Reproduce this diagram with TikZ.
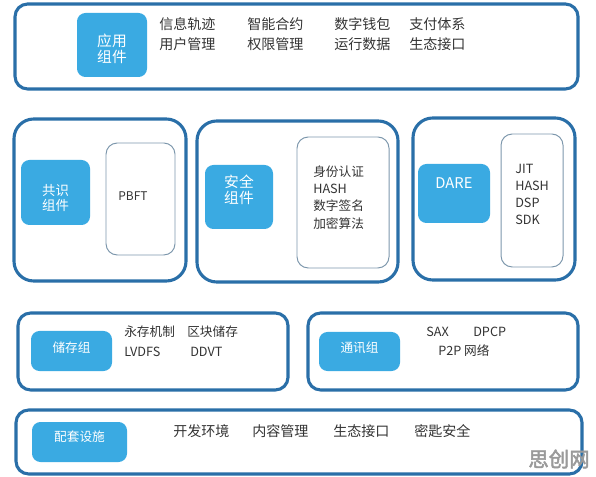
\documentclass[tikz,border=0pt]{standalone}
\usepackage{fontspec}
\setmainfont{Noto Sans CJK SC}
\newfontfamily\markfont[FakeBold=2.5]{Noto Sans CJK SC}
\usetikzlibrary{positioning}

\definecolor{frameblue}{HTML}{2A6FA8}
\definecolor{compblue}{HTML}{3AAAE2}
\definecolor{innergray}{HTML}{7D97AC}
\definecolor{textgray}{HTML}{333333}
\definecolor{markgray}{HTML}{9A9A9A}

\tikzset{
  outerbox/.style={draw=frameblue, line width=2.2pt, rounded corners=9pt},
  bigbox/.style={outerbox, rounded corners=14pt},
  innerbox/.style={draw=innergray, line width=0.7pt, rounded corners=8pt},
  compbox/.style={fill=compblue, rounded corners=6pt},
  comptext/.style={text=white, align=center, inner sep=0pt, font=\fontsize{10.5}{11.5}\selectfont},
  smallcomp/.style={comptext, font=\fontsize{9}{11}\selectfont},
  itemtext/.style={text=textgray, anchor=west, inner sep=0pt, font=\fontsize{10}{12}\selectfont},
  smallitem/.style={itemtext, font=\fontsize{9}{11}\selectfont},
  listtext/.style={smallitem, align=left, font=\fontsize{9}{12.2}\selectfont},
}

\begin{document}
\begin{tikzpicture}[x=0.025cm, y=-0.025cm]
    \useasboundingbox (0,0) rectangle (596,477);

    % 应用组件
    \draw[outerbox] (15,4) rectangle (578,89);
    \fill[compbox] (77,13) rectangle (147,77);
    \node[comptext] (app) at (112,49) {应用\\组件};
    \node[itemtext] (app1) at (159,24) {信息轨迹};
    \node[itemtext] (app2) at (247,24) {智能合约};
    \node[itemtext] (app3) at (334,24) {数字钱包};
    \node[itemtext] (app4) at (409,24) {支付体系};
    \node[itemtext] (app5) at (159,44) {用户管理};
    \node[itemtext] (app6) at (247,44) {权限管理};
    \node[itemtext] (app7) at (334,44) {运行数据};
    \node[itemtext] (app8) at (409,44) {生态接口};

    % 共识组件
    \draw[bigbox] (14,119) rectangle (186,281);
    \fill[compbox] (21,160) rectangle (90,225);
    \node[comptext, font=\fontsize{9.5}{11}\selectfont] (cons) at (55.5,198) {共识\\组件};
    \draw[innerbox] (106,143) rectangle (175,255);
    \node[smallitem, anchor=center, font=\fontsize{8.5}{10}\selectfont] (pbft) at (133,196) {PBFT};

    % 安全组件
    \draw[bigbox] (197,121) rectangle (398,282);
    \fill[compbox] (205,165) rectangle (273,229);
    \node[comptext] (safe) at (239,190) {安全\\组件};
    \draw[innerbox] (297,137) rectangle (389,268);
    \node[listtext] (safelist) at (313,197.5) {身份认证\\HASH\\数字签名\\加密算法};

    % DARE
    \draw[bigbox] (413,118) rectangle (575,280);
    \fill[compbox] (418,164) rectangle (490,223);
    \node[comptext] (dare) at (454,183) {DARE};
    \draw[innerbox] (501,134) rectangle (563,267);
    \node[listtext] (darelist) at (515,194.5) {JIT\\HASH\\DSP\\SDK};

    % 储存组
    \draw[outerbox] (18,313) rectangle (288,390);
    \fill[compbox] (31,331) rectangle (112,371);
    \node[smallcomp] (store) at (71.5,348) {储存组};
    \node[smallitem] (store1) at (124,332) {永存机制};
    \node[smallitem] (store2) at (187,332) {区块储存};
    \node[smallitem] (store3) at (124,352) {LVDFS};
    \node[smallitem] (store4) at (190,352) {DDVT};

    % 通讯组
    \draw[outerbox] (308,313) rectangle (578,390);
    \fill[compbox] (319,332) rectangle (400,371);
    \node[smallcomp] (comm) at (359.5,348) {通讯组};
    \node[smallitem] (comm1) at (426,332) {SAX};
    \node[smallitem] (comm2) at (473,332) {DPCP};
    \node[smallitem] (comm3) at (438,351) {P2P 网络};

    % 配套设施
    \draw[outerbox] (16,410) rectangle (582,474);
    \fill[compbox] (32,422) rectangle (127,462);
    \node[smallcomp] (infra) at (79.5,437) {配套设施};
    \node[itemtext] (infra1) at (173,431) {开发环境};
    \node[itemtext] (infra2) at (252,431) {内容管理};
    \node[itemtext] (infra3) at (333,431) {生态接口};
    \node[itemtext] (infra4) at (414,431) {密匙安全};

    % 水印
    \node[text=markgray, inner sep=0pt, font=\fontsize{14.5}{15}\selectfont\markfont] (mark) at (559,459) {思创网};
\end{tikzpicture}
\end{document}
